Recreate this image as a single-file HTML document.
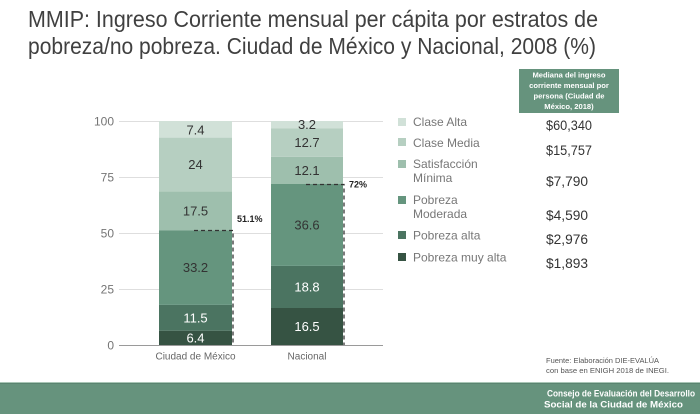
<!DOCTYPE html>
<html><head><meta charset="utf-8"><style>
html,body{margin:0;padding:0;background:#fff;}
svg{display:block;}
</style></head><body>
<svg width="700" height="414" viewBox="0 0 700 414" xmlns="http://www.w3.org/2000/svg">
<rect width="700" height="414" fill="#fff"/>
<!-- Title -->
<g font-family="Liberation Sans, sans-serif" font-size="23" fill="#404040">
<text x="28" y="27" textLength="570" lengthAdjust="spacingAndGlyphs">MMIP: Ingreso Corriente mensual per cápita por estratos de</text>
<text x="28" y="54" textLength="568" lengthAdjust="spacingAndGlyphs">pobreza/no pobreza. Ciudad de México y Nacional, 2008 (%)</text>
</g>
<!-- gridlines -->
<g stroke="#dedede" stroke-width="1">
<line x1="119" y1="121.5" x2="383" y2="121.5"/>
<line x1="119" y1="177.5" x2="383" y2="177.5"/>
<line x1="119" y1="233.5" x2="383" y2="233.5"/>
<line x1="119" y1="289.5" x2="383" y2="289.5"/>
</g>
<g font-family="Liberation Sans, sans-serif" font-size="12" fill="#757575" text-anchor="end">
<text x="114" y="125.5">100</text>
<text x="114" y="181.5">75</text>
<text x="114" y="237.5">50</text>
<text x="114" y="293.5">25</text>
<text x="114" y="349.5">0</text>
</g>
<!-- Bar 1: Ciudad de México -->
<g>
<rect x="159" y="330.7" width="73" height="14.3" fill="#365343"/>
<rect x="159" y="304.9" width="73" height="25.8" fill="#4b7461"/>
<rect x="159" y="230.5" width="73" height="74.4" fill="#65957e"/>
<rect x="159" y="191.3" width="73" height="39.2" fill="#9ebfad"/>
<rect x="159" y="137.6" width="73" height="53.7" fill="#b6cfc1"/>
<rect x="159" y="121" width="73" height="16.6" fill="#d1e1d8"/>
</g>
<!-- Bar 2: Nacional -->
<g>
<rect x="271" y="308" width="72" height="37" fill="#365343"/>
<rect x="271" y="265.9" width="72" height="42.1" fill="#4b7461"/>
<rect x="271" y="184" width="72" height="81.9" fill="#65957e"/>
<rect x="271" y="156.9" width="72" height="27.1" fill="#9ebfad"/>
<rect x="271" y="128.5" width="72" height="28.4" fill="#b6cfc1"/>
<rect x="271" y="121" width="72" height="7.5" fill="#d1e1d8"/>
</g>
<!-- axis -->
<line x1="119" y1="345.5" x2="383" y2="345.5" stroke="#9a9a9a" stroke-width="1"/>
<!-- bar labels -->
<g font-family="Liberation Sans, sans-serif" font-size="13" text-anchor="middle">
<text x="195.5" y="134.5" fill="#333">7.4</text>
<text x="195.5" y="169" fill="#333">24</text>
<text x="195.5" y="215.5" fill="#333">17.5</text>
<text x="195.5" y="272" fill="#333">33.2</text>
<text x="195.5" y="322.5" fill="#fff">11.5</text>
<text x="195.5" y="342.5" fill="#fff">6.4</text>
<text x="307" y="129" fill="#333">3.2</text>
<text x="307" y="147" fill="#333">12.7</text>
<text x="307" y="175" fill="#333">12.1</text>
<text x="307" y="229.5" fill="#333">36.6</text>
<text x="307" y="291.5" fill="#fff">18.8</text>
<text x="307" y="331" fill="#fff">16.5</text>
</g>
<!-- dashed markers -->
<g stroke="#333" stroke-width="1.3" stroke-dasharray="4,3" fill="none">
<polyline points="194,230.5 233,230.5 233,345"/>
<polyline points="306,184.5 344,184.5 344,345"/>
</g>
<g font-family="Liberation Sans, sans-serif" font-size="9" font-weight="bold" fill="#222">
<text x="237" y="222">51.1%</text>
<text x="349" y="187.5">72%</text>
</g>
<!-- x labels -->
<g font-family="Liberation Sans, sans-serif" font-size="10" fill="#666" text-anchor="middle">
<text x="195.5" y="359.5">Ciudad de México</text>
<text x="307" y="359.5">Nacional</text>
</g>
<!-- legend -->
<g>
<rect x="398" y="118" width="8" height="8" fill="#d1e1d8"/>
<rect x="398" y="138" width="8" height="8" fill="#b6cfc1"/>
<rect x="398" y="160" width="8" height="8" fill="#9ebfad"/>
<rect x="398" y="196" width="8" height="8" fill="#65957e"/>
<rect x="398" y="231" width="8" height="8" fill="#4b7461"/>
<rect x="398" y="253" width="8" height="8" fill="#365343"/>
</g>
<g font-family="Liberation Sans, sans-serif" font-size="12" fill="#777">
<text x="413" y="126">Clase Alta</text>
<text x="413" y="147">Clase Media</text>
<text x="413" y="168">Satisfacción</text>
<text x="413" y="182">Mínima</text>
<text x="413" y="204">Pobreza</text>
<text x="413" y="218">Moderada</text>
<text x="413" y="239.5">Pobreza alta</text>
<text x="413" y="261.5">Pobreza muy alta</text>
</g>
<!-- header box -->
<rect x="519" y="69" width="100" height="44" fill="#66937d"/>
<g font-family="Liberation Sans, sans-serif" font-size="7.6" font-weight="bold" fill="#fff" text-anchor="middle">
<text x="569" y="77.5">Mediana del ingreso</text>
<text x="569" y="88">corriente mensual por</text>
<text x="569" y="98.5">persona (Ciudad de</text>
<text x="569" y="109">México, 2018)</text>
</g>
<!-- values -->
<g font-family="Liberation Sans, sans-serif" font-size="13.5" fill="#333">
<text x="546" y="130" textLength="46" lengthAdjust="spacingAndGlyphs">$60,340</text>
<text x="546" y="155" textLength="46" lengthAdjust="spacingAndGlyphs">$15,757</text>
<text x="546" y="186" textLength="42" lengthAdjust="spacingAndGlyphs">$7,790</text>
<text x="546" y="220" textLength="42" lengthAdjust="spacingAndGlyphs">$4,590</text>
<text x="546" y="244" textLength="42" lengthAdjust="spacingAndGlyphs">$2,976</text>
<text x="546" y="268" textLength="42" lengthAdjust="spacingAndGlyphs">$1,893</text>
</g>
<!-- source -->
<g font-family="Liberation Sans, sans-serif" font-size="7.5" fill="#555">
<text x="546" y="363" textLength="113" lengthAdjust="spacingAndGlyphs">Fuente: Elaboración DIE-EVALÚA</text>
<text x="546" y="373" textLength="123" lengthAdjust="spacingAndGlyphs">con base en ENIGH 2018 de INEGI.</text>
</g>
<!-- footer -->
<rect x="0" y="382" width="700" height="1" fill="#a9c6b6"/>
<rect x="0" y="383" width="700" height="1" fill="#5a8470"/>
<rect x="0" y="384" width="700" height="30" fill="#66937d"/>
<g font-family="Liberation Sans, sans-serif" font-size="9.3" font-weight="bold" fill="#fff">
<text x="547" y="396.5" textLength="148" lengthAdjust="spacingAndGlyphs">Consejo de Evaluación del Desarrollo</text>
<text x="544" y="407.5" textLength="139" lengthAdjust="spacingAndGlyphs">Social de la Ciudad de México</text>
</g>
</svg>
</body></html>
